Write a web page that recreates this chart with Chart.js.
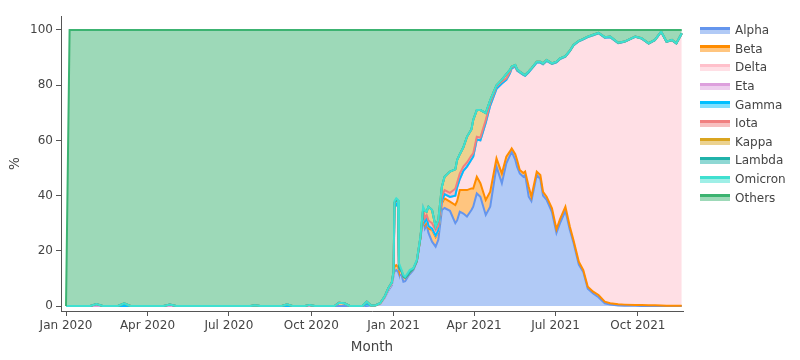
<!DOCTYPE html>
<html>
<head>
<meta charset="utf-8">
<script src="https://cdn.jsdelivr.net/npm/chart.js@4.4.1/dist/chart.umd.min.js"></script>
<style>
  html, body { margin: 0; background: #fff; }
  #wrap { position: relative; width: 800px; height: 360px; }
  #legend { position: absolute; left: 700px; top: 21px; font: 12px "DejaVu Sans", sans-serif; color: #444; }
  .li { height: 18.6px; display: flex; align-items: center; white-space: nowrap; }
  .sw { width: 30px; height: 7px; margin-right: 5px; box-sizing: border-box; border-top: 3px solid; }
</style>
</head>
<body>
<div id="wrap">
  <canvas id="chart" width="800" height="360"></canvas>
  <div id="legend"></div>
</div>
<script>
// 변이별 검출 비율 (%) — 누적 영역 차트, 날짜별 샘플
const DATES = [
  '2020-01-01','2020-01-05','2020-01-28','2020-02-04','2020-02-11','2020-02-28','2020-03-06','2020-03-13','2020-04-19','2020-04-26',
  '2020-05-03','2020-07-25','2020-07-30','2020-08-05','2020-08-29','2020-09-04','2020-09-10','2020-09-24','2020-09-29','2020-10-05',
  '2020-10-27','2020-11-01','2020-11-07','2020-11-13','2020-11-27','2020-12-02','2020-12-07','2020-12-12','2020-12-17','2020-12-22',
  '2020-12-26','2020-12-30','2021-01-01','2021-01-02','2021-01-04','2021-01-06','2021-01-07','2021-01-10','2021-01-12','2021-01-14',
  '2021-01-17','2021-01-19','2021-01-23','2021-01-27','2021-01-31','2021-02-03','2021-02-05','2021-02-07','2021-02-09','2021-02-13',
  '2021-02-17','2021-02-20','2021-02-24','2021-02-27','2021-03-05','2021-03-11','2021-03-13','2021-03-16','2021-03-20','2021-03-24',
  '2021-03-29','2021-03-31','2021-04-04','2021-04-08','2021-04-14','2021-04-19','2021-04-26','2021-05-02','2021-05-07','2021-05-11',
  '2021-05-13','2021-05-17','2021-05-19','2021-05-22','2021-05-26','2021-05-28','2021-06-01','2021-06-04','2021-06-10','2021-06-14',
  '2021-06-17','2021-06-21','2021-06-27','2021-07-02','2021-07-06','2021-07-12','2021-07-17','2021-07-21','2021-07-27','2021-08-01',
  '2021-08-06','2021-08-12','2021-08-18','2021-08-25','2021-08-31','2021-09-09','2021-09-16','2021-09-28','2021-10-05','2021-10-13',
  '2021-10-20','2021-10-27','2021-11-02','2021-11-08','2021-11-13','2021-11-19',
];

const ALPHA = [
  0,0,0,0,0,0,0,0,0,0,
  0,0,0,0,0,0,0,0,0,0,
  0,0,0,0,0,0,0.2,0.3,0.8,3,
  5.5,7.5,11,12.5,13,12.4,11.5,11,8.8,9,
  10.6,11.5,13,16,24.5,31.5,28,29.3,26.5,23.3,
  21.5,24,34.8,35.5,34.5,30,31,34.2,33.5,32.4,
  34.8,36,40.8,39.6,33,36,50.5,44.5,51.7,54.5,
  55.9,53,50.5,48,46.8,47.5,39.6,38,47.5,46,
  40,38.5,34,26.5,30,34.5,27.5,23,15,12.3,
  6.3,4.5,3.2,1,0.5,0.2,0.1,0.1,0,0,
  0,0,0,0,0,0,
];
const BETA = [
  0,0,0,0,0,0,0,0,0,0,
  0,0,0,0,0,0,0,0,0,0,
  0,1.2,1,0,0,0.6,0,0,0,0.2,
  0.5,0.5,1,1.7,1.8,1.8,1.5,1.5,1.8,1.2,
  0.6,0.7,0.4,0.3,0.3,1.5,1.5,1.7,1.6,4.2,
  3.5,3,2.4,3.5,3.3,6.6,7,7.8,8.5,9.6,
  7.8,6.6,6,4.9,5.4,5.4,3,3.5,2.4,1.5,
  1.2,2,2.4,1.3,1.4,1.2,3.6,1.6,1.2,1.5,
  1.4,1.1,1.4,1.3,1.5,1.5,1.2,0.9,1,0.7,
  0.7,0.7,0.8,0.6,0.5,0.4,0.4,0.3,0.4,0.3,
  0.3,0.2,0.1,0.1,0.1,0.1,
];
const DELTA = [
  0,0,0,0,0,0,0,0,0,0,
  0,0,0,0,0,0,0,0,0,0,
  0,0,0,0,0,0,0,0,0,0,
  0,0,0,21.3,22.2,21.8,0.5,0,0,0,
  0,0,0,0,0,1,1,1,0.9,0.5,
  0.5,0.5,0.8,1.5,1.7,3.4,5,4,7,8.5,
  10.5,11.5,13.5,15.5,28,31.2,25.2,32.6,27.8,28.3,
  29,31.7,32.4,35.3,35.5,34.7,41.5,46.2,39.5,40.7,
  46.2,49.2,52.3,60.5,58,54.3,63.6,70.5,79.9,83.6,
  90.4,92.9,94.8,95.6,96.4,94.6,95.2,97.1,96.5,94.8,
  96,99.1,95.6,96.2,95,98.6,
];
const ETA = [
  0,0,0,0,0,0,0,0,0,0,
  0,0,0,0,0,0,0,0,0,0,
  0,0,0,0,0,0,0,0,0,0,
  0,0,0,0,0,0,0,0,0,0,
  0,0,0,0,0,0,0,0,0,0,
  0,0,0,0,0,0,0,0,0,0,
  0,0,0,0,0,0,0,0,0,0,
  0,0,0,0,0,0,0,0,0,0,
  0,0,0,0,0,0,0,0,0,0,
  0,0,0,0,0,0,0,0,0,0,
  0,0,0,0,0,0,
];
const GAMMA = [
  0,0,0,0.7,0,0,0,0,0,0.5,
  0,0,0.3,0,0,0,0,0,0.4,0,
  0,0,0,0,0,0,0,0,0.2,0.2,
  0.4,0.5,0.5,0,0,0,0,0,0,0,
  0,0,0,0,0,0,0,0,0,0,
  0,0,0,0,0,0,0,0,0,0,
  0,0,0,0,0,0,0,0,0,0,
  0,0,0,0,0,0,0,0,0,0,
  0,0,0,0,0,0,0,0,0,0,
  0,0,0,0,0,0,0,0,0,0,
  0,0,0,0,0,0,
];
const IOTA = [
  0,0,0,0,0,0,1,0,0,0,
  0,0,0,0,0,0.6,0,0,0,0,
  0,0,0,0,0,1,0,0,0,0,
  0,0,0,2,1.5,1.8,0.5,0,0,0,
  0,0,0,0,0,1,1.3,1,2,2,
  2,1.5,1.6,1.5,1.5,2.5,1.6,2,1.5,1.5,
  1.4,1.2,1,1,1,1,0.8,0.7,0.6,0.5,
  0.4,0.3,0.3,0.3,0.3,0.3,0.3,0.3,0.3,0.3,
  0.3,0.3,0.2,0.2,0.2,0.2,0.2,0.2,0.2,0.2,
  0.2,0.2,0.2,0.2,0.2,0.2,0.1,0.1,0.1,0.1,
  0.1,0.1,0.1,0.1,0.1,0.1,
];
const KAPPA = [
  0,0,0,0,0,0,0,0,0,0,
  0,0,0,0,0,0,0,0,0,0,
  0,0,0,0,0,0,0,0,0,0,
  0,0,0,0,0,0,0,0,0,0,
  0,0,0,0,0,0,2.7,1.2,5,4.8,
  1.2,2.2,3.6,4.8,7.7,7,8.3,7,7,9.3,
  9.5,12.1,9.7,10,2.5,1,0.5,0.7,1.5,0.7,
  0.3,0.3,0.2,0,0,0,0,0,0,0,
  0,0,0,0,0,0,0,0,0,0,
  0,0,0,0,0,0,0,0,0,0,
  0,0,0,0,0,0,
];
const LAMBDA = [
  0,0,0,0,0,0,0,0,0,0,
  0,0,0,0,0,0,0,0,0,0,
  0,0,0,0,0,0,0,0,0,0,
  0,0,0,0,0,0,0,0,0,0,
  0,0,0,0,0,0,0,0,0,0,
  0,0,0,0,0,0,0,0,0,0,
  0,0,0,0,0,0,0,0,0,0,
  0,0,0,0,0,0,0,0,0,0,
  0,0,0,0,0,0,0,0,0,0,
  0,0,0,0,0,0,0,0,0,0,
  0,0,0,0,0,0,
];
const OMICRON = [
  0,0,0,0,0,0,0,0,0,0,
  0,0,0,0,0,0,0,0,0,0,
  0,0,0,0,0,0,0,0,0,0,
  0,0,0,0.5,0.5,0.6,1.5,0.5,0.6,0.4,
  0.8,0.8,0.3,0.4,0.3,1,0,0,0,0,
  0,0,0,0,0,0,0,0,0,0,
  0,0,0,0,0,0,0,0,0,0,
  0,0,0,0,0,0,0,0,0,0,
  0,0,0,0,0,0,0,0,0,0,
  0,0,0,0,0,0,0,0,0,0,
  0,0,0,0,0,0,
];
const OTHERS = [
  0,100,100,99.3,100,100,99,100,100,99.5,
  100,100,99.7,100,100,99.4,100,100,99.6,100,
  100,98.8,99,100,100,98.4,99.8,99.7,99,96.6,
  93.6,91.5,87.5,62,61,61.6,84.5,87,88.8,89.4,
  88,87,86.3,83.3,74.9,64,65.5,65.8,64,65.2,
  71.3,68.8,56.8,53.2,51.3,50.5,47.1,45,42.5,38.7,
  36,32.6,29,29,30.1,25.4,20,18,16,14.5,
  13.2,12.7,14.2,15.1,16,16.3,15,13.9,11.5,11.5,
  12.1,10.9,12.1,11.5,10.3,9.5,7.5,5.4,3.9,3.2,
  2.4,1.7,1,2.6,2.4,4.6,4.2,2.4,3,4.8,
  3.6,0.6,4.2,3.6,4.8,1.2,
];

const X_TICK_DATES  = ['2020-01-01','2020-04-01','2020-07-01','2020-10-01','2021-01-01','2021-04-01','2021-07-01','2021-10-01'];
const X_TICK_LABELS = ['Jan 2020','Apr 2020','Jul 2020','Oct 2020','Jan 2021','Apr 2021','Jul 2021','Oct 2021'];
const Y_TICKS = [0, 20, 40, 60, 80, 100];

// 쌓는 순서 = 범례 순서 (아래 → 위)
const VARIANTS = [
  { name: 'Alpha',   vals: ALPHA,   color: '#6495ed' },
  { name: 'Beta',    vals: BETA,    color: '#ff8c00' },
  { name: 'Delta',   vals: DELTA,   color: '#ffc0cb' },
  { name: 'Eta',     vals: ETA,     color: '#dda0dd' },
  { name: 'Gamma',   vals: GAMMA,   color: '#00bfff' },
  { name: 'Iota',    vals: IOTA,    color: '#f08080' },
  { name: 'Kappa',   vals: KAPPA,   color: '#daa520' },
  { name: 'Lambda',  vals: LAMBDA,  color: '#20b2aa' },
  { name: 'Omicron', vals: OMICRON, color: '#40e0d0' },
  { name: 'Others',  vals: OTHERS,  color: '#3cb371' },
];

const FONT = '"DejaVu Sans", sans-serif';
const DAY0 = Date.parse('2020-01-01');
const toDay = d => (Date.parse(d) - DAY0) / 864e5;
const days = DATES.map(toDay);
const half = hex => {
  const n = parseInt(hex.slice(1), 16);
  return `rgba(${n >> 16},${(n >> 8) & 255},${n & 255},0.5)`;
};

// 누적값은 여기서 직접 계산 (그리는 순서를 Others가 맨 위로 오게 하려고 stacked 대신)
let run = days.map(() => 0);
const datasets = VARIANTS.map((v, i) => {
  if (v.vals.length !== days.length) console.warn('length mismatch', v.name, v.vals.length);
  run = run.map((r, j) => r + (v.vals[j] || 0));
  return {
    label: v.name,
    data: run.map((y, j) => ({ x: days[j], y })),
    borderColor: v.color,
    backgroundColor: half(v.color),
    borderWidth: 2,
    pointRadius: 0,
    tension: 0,
    fill: i === 0 ? 'origin' : '-1',
    order: VARIANTS.length - i,
  };
});

// 범례 (plotly 스타일 선+채움 견본)
document.getElementById('legend').innerHTML = VARIANTS.map(v =>
  `<div class="li"><span class="sw" style="border-top-color:${v.color};background:${half(v.color)}"></span>${v.name}</div>`
).join('');

const tickFont = { family: FONT, size: 12 };
const axisGrid = { drawOnChartArea: false, drawTicks: true, tickLength: 5, color: '#555' };

new Chart(document.getElementById('chart'), {
  type: 'line',
  data: { datasets },
  options: {
    responsive: false,
    animation: false,
    layout: { padding: { left: 0, right: 117, top: 16, bottom: 0 } },
    plugins: {
      legend: { display: false },
      tooltip: { enabled: false },
      filler: { drawTime: 'beforeDatasetsDraw' },
    },
    scales: {
      x: {
        type: 'linear',
        min: -5.6,
        max: 689.4,
        afterBuildTicks: s => { s.ticks = X_TICK_DATES.map(d => ({ value: toDay(d) })); },
        afterFit: s => { s.height = 49; },
        ticks: { autoSkip: false, maxRotation: 0, padding: 3, color: '#444', font: tickFont,
                 callback: (v, i) => X_TICK_LABELS[i] },
        grid: axisGrid,
        border: { display: true, color: '#555', width: 1 },
        title: { display: true, text: 'Month', color: '#444', font: { family: FONT, size: 13.5 },
                 padding: { top: 0, bottom: 4 } },
      },
      y: {
        type: 'linear',
        min: -1.81,
        max: 105.07,
        afterBuildTicks: s => { s.ticks = Y_TICKS.map(v => ({ value: v })); },
        afterFit: s => { s.width = 61; },
        ticks: { padding: 3, color: '#444', font: tickFont },
        grid: axisGrid,
        border: { display: true, color: '#555', width: 1 },
        title: { display: true, text: '%', color: '#444', font: { family: FONT, size: 13.5 },
                 padding: { top: 7, bottom: 0 } },
      },
    },
  },
});
</script>
</body>
</html>
